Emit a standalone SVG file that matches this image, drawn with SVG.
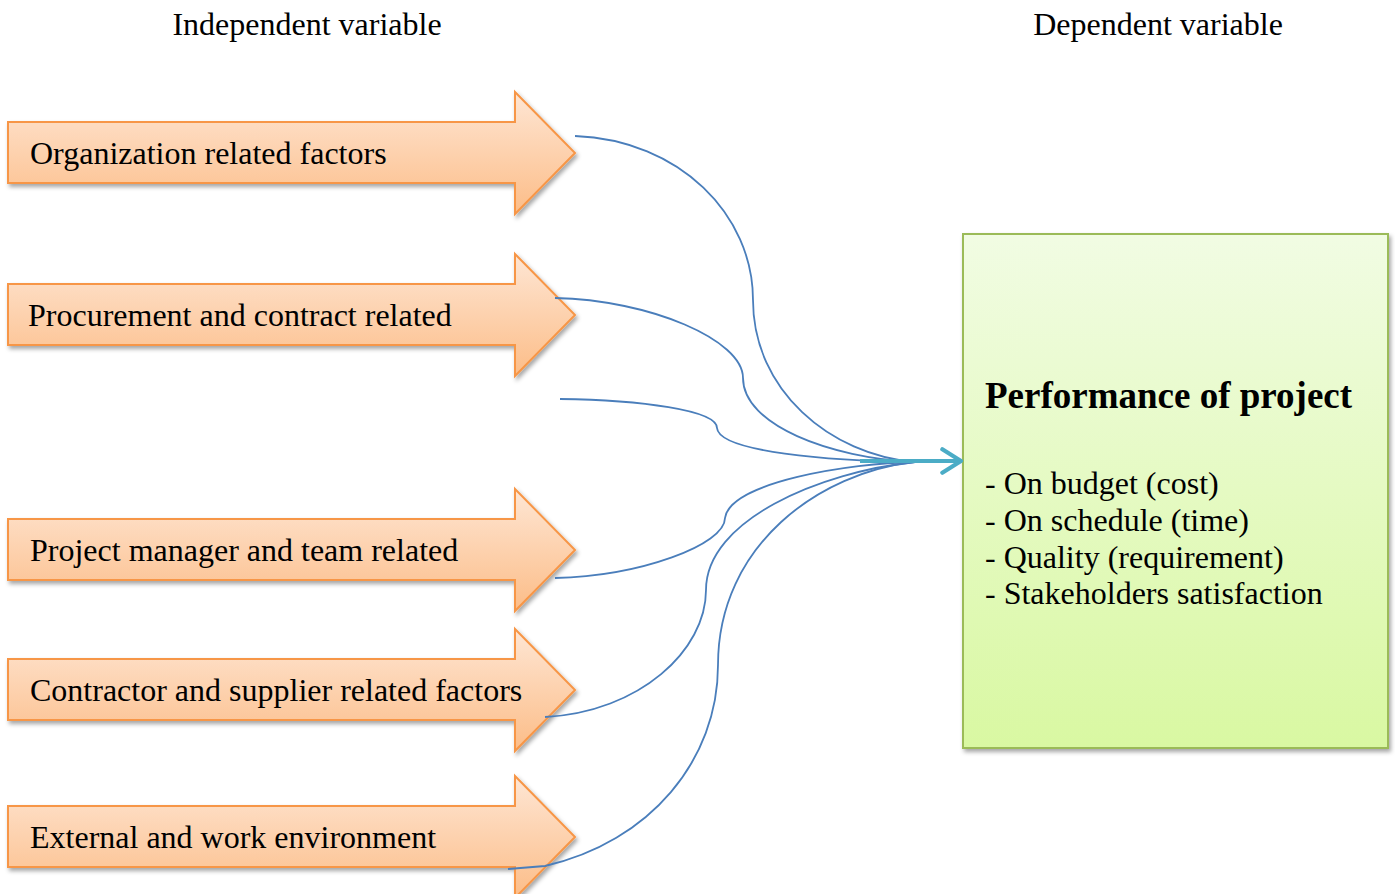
<svg xmlns="http://www.w3.org/2000/svg" width="1395" height="894" viewBox="0 0 1395 894">
  <defs>
    <linearGradient id="orangeFill" x1="0" y1="0" x2="0" y2="1">
      <stop offset="0" stop-color="#fee6d4"/>
      <stop offset="1" stop-color="#fcbd88"/>
    </linearGradient>
    <linearGradient id="greenFill" x1="0" y1="0" x2="0" y2="1">
      <stop offset="0" stop-color="#f1fce3"/>
      <stop offset="1" stop-color="#d9f8a2"/>
    </linearGradient>
    <filter id="shadow" x="-10%" y="-10%" width="125%" height="130%">
      <feDropShadow dx="2" dy="3" stdDeviation="2" flood-color="#000" flood-opacity="0.35"/>
    </filter>
    <marker id="chevron" viewBox="0 0 12 12" refX="10" refY="6" markerWidth="7" markerHeight="7" markerUnits="strokeWidth" orient="auto">
      <path d="M2,1 L10,6 L2,11" fill="none" stroke="#4bacc6" stroke-width="1.8" stroke-linecap="round" stroke-linejoin="round"/>
    </marker>
  </defs>
  <style>
    .block { fill: url(#orangeFill); stroke: #f79646; stroke-width: 2; filter: url(#shadow); }
    .label { font-family: "Liberation Serif", "Times New Roman", serif; font-size: 32px; fill: #000; }
    .heading { font-family: "Liberation Serif", "Times New Roman", serif; font-size: 32px; fill: #000; text-anchor: middle; }
    .link { fill: none; stroke: #4a7ebb; stroke-width: 1.8; }
  </style>

  <rect width="1395" height="894" fill="#ffffff"/>

  <text class="heading" x="307" y="35">Independent variable</text>
  <text class="heading" x="1158" y="35">Dependent variable</text>

  <!-- Factor blocks -->
  <g id="organization">
    <path class="block" d="M8,122 H515 V92 L575,153 L515,214 V183 H8 Z"/>
    <text class="label" x="30" y="164">Organization related factors</text>
  </g>
  <g id="procurement">
    <path class="block" d="M8,284 H515 V254 L575,315 L515,376 V345 H8 Z"/>
    <text class="label" x="28" y="326">Procurement and contract related</text>
  </g>
  <g id="project-manager">
    <path class="block" d="M8,519 H515 V489 L575,550 L515,611 V580 H8 Z"/>
    <text class="label" x="30" y="561">Project manager and team related</text>
  </g>
  <g id="contractor">
    <path class="block" d="M8,659 H515 V629 L575,690 L515,751 V720 H8 Z"/>
    <text class="label" x="30" y="701">Contractor and supplier related factors</text>
  </g>
  <g id="external">
    <path class="block" d="M8,806 H515 V776 L575,837 L515,898 V867 H8 Z"/>
    <text class="label" x="30" y="848">External and work environment</text>
  </g>

  <!-- Outcome block -->
  <g id="performance">
    <rect x="963" y="234" width="425" height="514" fill="url(#greenFill)" stroke="#9bbb59" stroke-width="2" filter="url(#shadow)"/>
    <text x="985" y="408" font-family="'Liberation Serif', 'Times New Roman', serif" font-size="37" font-weight="bold" fill="#000">Performance of project</text>
    <text class="label" x="985" y="494">- On budget (cost)</text>
    <text class="label" x="985" y="531">- On schedule (time)</text>
    <text class="label" x="985" y="568">- Quality (requirement)</text>
    <text class="label" x="985" y="604">- Stakeholders satisfaction</text>
  </g>

  <!-- Connectors -->
  <g id="connectors">
    <path class="link" d="M575,136 C680,140 753,215 753,300 C753,390 830,455 915,462"/>
    <path class="link" d="M555,298 C650,300 743,340 743,378 C743,425 830,458 915,462"/>
    <path class="link" d="M560,399 C640,400 717,410 717,428 C719,452 830,461 915,462"/>
    <path class="link" d="M555,578 C640,576 725,545 725,518 C730,482 850,463 915,462"/>
    <path class="link" d="M545,717 C640,712 706,650 706,590 C706,520 820,472 915,462"/>
    <path class="link" d="M508,869 L545,866 C650,842 718,760 718,665 C718,545 820,472 915,462"/>
    <line x1="860" y1="461" x2="961" y2="461" stroke="#4bacc6" stroke-width="4" marker-end="url(#chevron)"/>
  </g>
</svg>
